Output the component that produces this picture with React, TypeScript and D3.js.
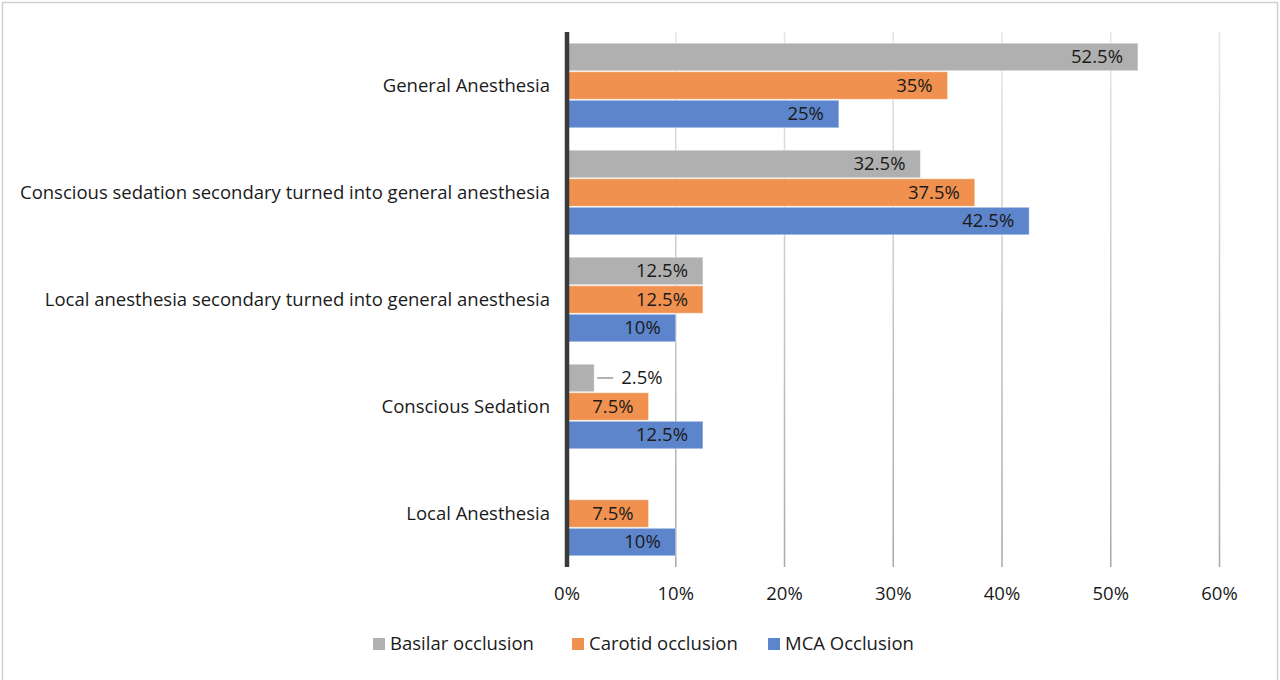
import React, { useEffect } from 'react';
import * as d3 from 'd3';

// chart data
const categories = [
  'General Anesthesia',
  'Conscious sedation secondary turned into general anesthesia',
  'Local anesthesia secondary turned into general anesthesia',
  'Conscious Sedation',
  'Local Anesthesia',
];
const seriesNames = ['Basilar occlusion', 'Carotid occlusion', 'MCA Occlusion'];
const basilar = [52.5, 32.5, 12.5, 2.5, 0];
const carotid = [35, 37.5, 12.5, 7.5, 7.5];
const mca = [25, 42.5, 10, 12.5, 10];
const xTicks = [0, 10, 20, 30, 40, 50, 60];

const colors = ['#b0b0b0', '#f0914f', '#5d85cb'];
const font = "'Open Sans', sans-serif";
const fs = 18.5;

const App = () => {
  useEffect(() => {
    document.body.style.margin = '0';
  }, []);

  const width = 1280;
  const height = 680;
  const values = [basilar, carotid, mca];

  const x = d3.scaleLinear().domain([0, 60]).range([567, 1219.5]);
  const y = d3.scaleBand<string>()
    .domain(categories)
    .range([32, 567])
    .paddingInner(0.2)
    .paddingOuter(0.1);
  const y1 = d3.scaleBand<number>()
    .domain(d3.range(seriesNames.length))
    .range([0, y.bandwidth()]);

  const legendX = [373, 572, 768];

  return (
    <svg width={width} height={height} style={{ display: 'block' }} fontFamily={font}>
      <defs>
        <linearGradient id="grid" x1="0" y1="0" x2="0" y2="1">
          <stop offset="0" stopColor="#e6e6e6" />
          <stop offset="1" stopColor="#a8a8a8" />
        </linearGradient>
      </defs>
      <rect x={0} y={0} width={width} height={height} fill="#fff" />
      <rect x={2.5} y={2.5} width={1275} height={700} fill="none" stroke="#cfcfcf" strokeWidth={1.5} />

      {/* gridlines */}
      {xTicks.slice(1).map(t => (
        <rect key={t} x={x(t) - 0.75} y={32} width={1.5} height={535} fill="url(#grid)" />
      ))}

      {/* bars */}
      {categories.map((c, ci) => (
        <g key={c} transform={`translate(0,${y(c)})`}>
          {values.map((vals, si) => {
            const v = vals[ci];
            if (!v) return null;
            const by = y1(si)!;
            const bh = y1.bandwidth();
            const w = x(v) - x(0);
            const small = v < 5;
            return (
              <g key={si}>
                <rect
                  x={x(0)}
                  y={by + 0.5}
                  width={w}
                  height={bh - 1}
                  fill={colors[si]}
                  stroke="#ffffff"
                  strokeOpacity={0.45}
                  strokeWidth={1}
                />
                {small ? (
                  <g>
                    <line x1={x(v) + 3} x2={x(v) + 19} y1={by + bh / 2} y2={by + bh / 2} stroke="#7f7f7f" strokeWidth={1.2} />
                    <text x={x(v) + 27} y={by + bh / 2} dy="0.35em" fontSize={fs} fill="#1a1a1a">
                      {v}%
                    </text>
                  </g>
                ) : (
                  <text x={x(v) - 15} y={by + bh / 2} dy="0.35em" textAnchor="end" fontSize={fs} fill="#1a1a1a">
                    {v}%
                  </text>
                )}
              </g>
            );
          })}
          <text x={550} y={y.bandwidth() / 2} dy="0.35em" textAnchor="end" fontSize={fs} fill="#1a1a1a">
            {c}
          </text>
        </g>
      ))}

      {/* axis line */}
      <line x1={x(0)} x2={x(0)} y1={32} y2={567} stroke="#3a3a3a" strokeWidth={4.5} />

      {/* tick labels */}
      {xTicks.map(t => (
        <text key={t} x={x(t)} y={594} dy="0.35em" textAnchor="middle" fontSize={fs} fill="#1a1a1a">
          {t}%
        </text>
      ))}

      {/* legend */}
      {seriesNames.map((s, i) => (
        <g key={s} transform={`translate(${legendX[i]},644)`}>
          <rect x={0} y={-6} width={12} height={12} fill={colors[i]} />
          <text x={17} dy="0.35em" fontSize={fs} fill="#1a1a1a">
            {s}
          </text>
        </g>
      ))}
    </svg>
  );
};

export default App;
